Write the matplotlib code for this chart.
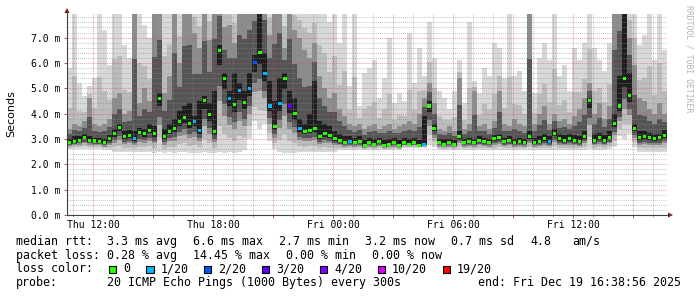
import numpy as np
import matplotlib
matplotlib.use("Agg")
import matplotlib.pyplot as plt
from matplotlib.patches import Polygon, Rectangle
from matplotlib.lines import Line2D

# smokeping style graph, 15 min columns from Thu 10:42 to Fri 16:42
# x in hours since Thu 00:00, y in ms
start_hour = 10.7
step = 0.25

median = [
    2.85, 2.9, 2.95, 3.05, 2.95, 2.92, 2.9, 2.85, 3.0, 3.2, 3.45, 3.1,
    3.15, 3.0, 3.25, 3.2, 3.35, 3.2, 4.6, 3.1, 3.3, 3.4, 3.7, 3.85,
    3.6, 3.7, 3.35, 4.5, 3.95, 3.3, 6.5, 5.4, 4.6, 4.35, 4.9, 4.45,
    5.0, 6.0, 6.4, 5.6, 4.3, 3.5, 4.4, 5.4, 4.3, 4.0, 3.4, 3.3,
    3.35, 3.4, 3.1, 3.2, 3.15, 3.0, 2.95, 2.85, 2.9, 2.85, 2.9, 2.75,
    2.85, 2.8, 2.9, 2.75, 2.8, 2.85, 2.75, 2.85, 2.8, 2.85, 2.75, 2.8,
    4.3, 3.4, 2.85, 2.8, 2.85, 2.8, 3.1, 2.85, 2.9, 2.85, 2.95, 2.9,
    2.85, 3.0, 3.05, 2.9, 2.95, 2.85, 2.9, 2.85, 3.1, 2.85, 2.9, 3.0,
    2.9, 3.2, 3.0, 2.95, 3.0, 2.95, 2.9, 3.1, 4.5, 2.95, 3.05, 2.95,
    3.05, 3.6, 4.3, 5.4, 4.7, 3.4, 3.05, 3.1, 3.05, 3.0, 3.05, 3.15,
]
smoke_lo = [
    2.6, 2.6, 2.6, 2.6, 2.6, 2.6, 2.6, 2.55, 2.55, 2.5, 2.5, 2.5,
    2.5, 2.5, 2.5, 2.5, 2.5, 2.45, 2.5, 2.45, 2.5, 2.45, 2.5, 2.5,
    2.45, 2.45, 2.45, 2.5, 2.45, 2.45, 2.5, 2.45, 2.5, 2.45, 2.5, 2.55,
    3.0, 3.7, 3.4, 3.6, 2.9, 2.6, 2.5, 2.45, 2.45, 2.45, 2.5, 2.5,
    2.5, 2.5, 2.5, 2.5, 2.5, 2.5, 2.55, 2.55, 2.55, 2.55, 2.55, 2.55,
    2.55, 2.55, 2.55, 2.55, 2.55, 2.55, 2.55, 2.65, 2.65, 2.65, 2.65, 2.65,
    2.75, 2.7, 2.55, 2.55, 2.55, 2.55, 2.55, 2.55, 2.55, 2.55, 2.55, 2.55,
    2.55, 2.55, 2.55, 2.55, 2.55, 2.55, 2.55, 2.55, 2.55, 2.55, 2.55, 2.55,
    2.55, 2.55, 2.55, 2.55, 2.55, 2.55, 2.55, 2.55, 2.6, 2.55, 2.55, 2.55,
    2.6, 2.7, 3.1, 3.0, 3.2, 2.7, 2.5, 2.5, 2.5, 2.5, 2.5, 2.5,
]
smoke_dark = [
    3.0, 3.1, 3.1, 3.2, 3.1, 3.05, 3.05, 3.0, 3.15, 3.4, 3.6, 3.3,
    3.35, 3.3, 3.45, 3.4, 3.6, 3.5, 4.8, 3.4, 3.6, 3.8, 4.1, 4.3,
    4.4, 3.9, 4.5, 4.7, 4.4, 4.9, 6.7, 5.6, 4.9, 5.6, 5.2, 4.9,
    5.6, 6.3, 9.0, 6.4, 5.3, 4.5, 5.4, 5.6, 4.9, 4.6, 3.8, 3.6,
    4.0, 5.3, 3.7, 3.6, 3.5, 3.3, 3.2, 3.1, 3.1, 3.05, 3.1, 2.95,
    3.05, 3.0, 3.05, 2.95, 3.0, 3.05, 2.95, 3.05, 3.0, 3.05, 2.95, 3.9,
    4.5, 3.6, 3.0, 3.0, 3.0, 2.95, 3.3, 3.0, 3.05, 3.0, 3.1, 3.05,
    3.0, 3.15, 3.2, 3.05, 3.1, 3.0, 3.05, 3.0, 3.3, 3.05, 3.1, 3.2,
    3.1, 3.4, 3.2, 3.15, 3.2, 3.15, 3.1, 3.3, 4.6, 3.2, 3.25, 3.15,
    3.3, 4.0, 5.5, 9.0, 5.6, 3.6, 3.3, 3.3, 3.25, 3.2, 3.2, 3.35,
]
smoke_mid = [
    3.4, 3.6, 3.5, 3.7, 4.6, 3.6, 3.5, 3.6, 3.8, 4.6, 4.8, 4.0,
    4.1, 9.0, 4.4, 5.0, 4.5, 9.0, 9.0, 4.8, 5.5, 9.0, 6.0, 9.0,
    9.0, 7.2, 6.6, 9.0, 6.9, 9.0, 9.0, 7.4, 7.5, 6.8, 9.0, 9.0,
    9.0, 9.0, 9.0, 9.0, 7.1, 9.0, 9.0, 6.6, 9.0, 7.3, 7.0, 6.5,
    6.2, 6.8, 5.5, 5.0, 4.6, 4.8, 4.2, 3.9, 3.6, 3.5, 3.6, 3.4,
    3.5, 3.6, 3.4, 3.5, 3.6, 3.4, 3.5, 3.6, 3.7, 3.6, 4.0, 4.6,
    5.2, 4.4, 3.4, 3.3, 3.5, 3.3, 5.4, 3.4, 3.6, 4.9, 3.5, 3.6,
    3.4, 3.7, 4.9, 3.6, 3.5, 3.8, 3.6, 3.5, 9.0, 3.6, 4.0, 4.3,
    3.6, 4.0, 3.7, 3.8, 3.6, 3.9, 4.2, 4.6, 5.2, 4.0, 4.4, 3.8,
    4.3, 9.0, 9.0, 9.0, 7.0, 5.9, 4.6, 4.5, 4.2, 4.0, 4.4, 4.0,
]
smoke_max = [
    5.8, 9.0, 5.2, 4.7, 5.1, 5.4, 9.0, 7.3, 5.9, 9.0, 9.0, 6.7,
    6.2, 9.0, 9.0, 7.5, 7.0, 9.0, 9.0, 9.0, 9.0, 9.0, 9.0, 9.0,
    9.0, 9.0, 9.0, 9.0, 9.0, 9.0, 9.0, 9.0, 9.0, 9.0, 9.0, 9.0,
    9.0, 9.0, 9.0, 9.0, 9.0, 9.0, 9.0, 9.0, 9.0, 9.0, 9.0, 9.0,
    9.0, 9.0, 9.0, 9.0, 7.6, 9.0, 6.8, 9.0, 5.1, 9.0, 4.3, 5.6,
    5.8, 6.1, 4.6, 5.4, 7.0, 4.4, 4.8, 4.5, 7.2, 5.2, 6.6, 5.5,
    7.6, 6.2, 4.9, 4.6, 4.2, 4.9, 6.1, 4.4, 7.6, 5.3, 4.8, 5.8,
    5.5, 6.8, 6.6, 5.4, 9.0, 5.5, 5.7, 4.9, 9.0, 4.8, 6.2, 6.8,
    6.1, 9.0, 5.5, 5.9, 4.9, 6.6, 6.1, 6.8, 9.0, 6.6, 6.1, 5.7,
    6.8, 9.0, 9.0, 9.0, 9.0, 9.0, 6.7, 7.1, 9.0, 6.1, 9.0, 6.5,
]
# lost pings out of 20 per column
loss = [
    0, 0, 0, 0, 0, 0, 0, 0, 0, 0, 0, 0,
    0, 1, 0, 0, 0, 0, 0, 0, 0, 0, 0, 0,
    0, 1, 1, 0, 0, 0, 0, 0, 1, 0, 1, 0,
    1, 2, 0, 1, 1, 0, 1, 0, 3, 0, 1, 0,
    0, 0, 0, 0, 0, 0, 0, 0, 1, 0, 0, 0,
    0, 0, 0, 0, 0, 0, 0, 0, 0, 0, 0, 1,
    0, 0, 0, 0, 0, 0, 0, 0, 0, 0, 0, 0,
    0, 0, 0, 0, 0, 0, 0, 0, 0, 0, 0, 0,
    1, 0, 0, 0, 0, 0, 0, 0, 0, 0, 0, 0,
    0, 0, 0, 0, 0, 0, 0, 0, 0, 0, 0, 0,
]

tick_hours = [12, 18, 24, 30, 36]
tick_names = ["Thu 12:00", "Thu 18:00", "Fri 00:00", "Fri 06:00", "Fri 12:00"]
y_ticks = [0, 1, 2, 3, 4, 5, 6, 7]
loss_steps = [0, 1, 2, 3, 4, 10, 19]
loss_names = ["0", "1/20", "2/20", "3/20", "4/20", "10/20", "19/20"]
loss_colors = ["#26ff00", "#00b8ff", "#0059ff", "#5e00ff", "#7e00ff", "#dd00ff", "#ff0000"]

rtt_stats = ["3.3 ms avg", "6.6 ms max", "2.7 ms min", "3.2 ms now", "0.7 ms sd"]
loss_stats = ["0.28 % avg", "14.45 % max", "0.00 % min", "0.00 % now"]
probe_text = "20 ICMP Echo Pings (1000 Bytes) every 300s"
end_text = "end: Fri Dec 19 16:38:56 2025"

W, H = 697, 297
MONO = "DejaVu Sans Mono"


def fx(px):
    return px / W


def fy(py):
    return 1 - py / H


fig = plt.figure(figsize=(W / 100, H / 100), dpi=100, facecolor="white")
ax = fig.add_axes([fx(67), fy(215), 600 / W, 201 / H])
ax.set_facecolor("white")
ax.set_xlim(start_hour, start_hour + step * len(median))
ax.set_ylim(0, 7.93)

med = np.array(median)
lo = np.array(smoke_lo)
dark = np.array(smoke_dark)
mid = np.array(smoke_mid)
top = np.array(smoke_max)
edges = start_hour + step * np.arange(len(median) + 1)

# smoke, lighter shades further from the median
layers = [
    ("#d8d8d8", lo, top),
    ("#bcbcbc", lo + 0.25 * (med - lo), mid + 0.35 * (top - mid)),
    ("#8c8c8c", lo + 0.5 * (med - lo), mid),
    ("#555555", med - 0.35 * (med - lo), dark + 0.5 * (mid - dark)),
    ("#1e1e1e", med - 0.15 * (med - lo), dark),
]
for col, bot, hi in layers:
    ax.stairs(hi, edges, baseline=bot, fill=True, color=col, lw=0, zorder=1)

# grid on top of the smoke, half transparent dotted lines
for i in range(1, 40):
    major = i % 5 == 0
    ax.axhline(i / 5, color="#d84848" if major else "#909090", alpha=0.5,
               lw=0.75, ls=(0, (1, 1)), zorder=3)
for h in range(11, 41):
    major = h % 3 == 0
    ax.axvline(h, color="#d84848" if major else "#909090", alpha=0.5,
               lw=0.75, ls=(0, (1, 1)), zorder=3)

# median, coloured by packet loss
centers = edges[:-1] + step / 2
mcolors = [loss_colors[loss_steps.index(l)] for l in loss]
ax.bar(centers, 0.12, bottom=med - 0.06, width=step * 0.8,
       color=mcolors, lw=0, zorder=4)

for s in ax.spines.values():
    s.set_visible(False)

ax.set_xticks(range(12, 40, 3))
ax.set_xticklabels([tick_names[tick_hours.index(h)] if h in tick_hours else ""
                    for h in range(12, 40, 3)])
ax.set_xticks(range(11, 41), minor=True)
ax.tick_params(axis="x", which="major", direction="out", length=2.2, width=0.75,
               color="#c06060", pad=1.5, labelsize=7)
ax.tick_params(axis="x", which="minor", direction="out", length=1.4, width=0.75,
               color="#a0a0a0")
ax.set_yticks(y_ticks)
ax.set_yticklabels(["%.1f m" % v for v in y_ticks])
ax.tick_params(axis="y", direction="out", length=2.2, width=0.75,
               color="#c06060", pad=2.5, labelsize=7)
for lab in ax.get_xticklabels() + ax.get_yticklabels():
    lab.set_family(MONO)

# axes with arrow heads
fig.add_artist(Line2D([fx(67), fx(67)], [fy(215), fy(10)], color="#404040", lw=0.8))
fig.add_artist(Line2D([fx(67), fx(670)], [fy(215), fy(215)], color="#404040", lw=0.8))
fig.add_artist(Polygon([[fx(64.5), fy(13)], [fx(69.5), fy(13)], [fx(67), fy(8)]],
                       closed=True, color="#8b1010", lw=0))
fig.add_artist(Polygon([[fx(668), fy(212.5)], [fx(668), fy(217.5)], [fx(673), fy(215)]],
                       closed=True, color="#8b1010", lw=0))

fig.text(fx(11), fy(114), "Seconds", rotation=90, ha="center", va="center",
         fontsize=8, family="DejaVu Sans")
fig.text(fx(688.5), fy(5), "RRDTOOL / TOBI OETIKER", rotation=270, ha="center",
         va="top", fontsize=5.9, family=MONO, color="#b4b4b4")

# legend block
fs = 8.4
rows = [241.5, 255.3, 269.0, 282.7]
fig.text(fx(16), fy(rows[0]), "median rtt:", fontsize=fs, family=MONO, va="center")
for k, t in enumerate(rtt_stats):
    fig.text(fx(107.3 + 86 * k), fy(rows[0]), t, fontsize=fs, family=MONO, va="center")
fig.text(fx(530), fy(rows[0]), "4.8", fontsize=fs, family=MONO, va="center")
fig.text(fx(572.3), fy(rows[0]), "am/s", fontsize=fs, family=MONO, va="center")

fig.text(fx(16), fy(rows[1]), "packet loss:", fontsize=fs, family=MONO, va="center")
for t, x in zip(loss_stats, [107.3, 193.3, 286.0, 372.0]):
    fig.text(fx(x), fy(rows[1]), t, fontsize=fs, family=MONO, va="center")

fig.text(fx(16), fy(rows[2]), "loss color:", fontsize=fs, family=MONO, va="center")
box_x = [108.5, 146.0, 203.5, 261.5, 319.5, 377.5, 442.5]
for bx, name, col in zip(box_x, loss_names, loss_colors):
    fig.add_artist(Rectangle((fx(bx), fy(273.3)), 7.7 / W, 7.6 / H,
                             facecolor=col, edgecolor="black", lw=0.8))
    fig.text(fx(bx + 14.5), fy(rows[2]), name, fontsize=fs, family=MONO, va="center")

fig.text(fx(16), fy(rows[3]), "probe:", fontsize=fs, family=MONO, va="center")
fig.text(fx(107.3), fy(rows[3]), probe_text, fontsize=fs, family=MONO, va="center")
fig.text(fx(478), fy(rows[3]), end_text, fontsize=fs, family=MONO, va="center")

fig.savefig("out.png", dpi=100, facecolor="white")
